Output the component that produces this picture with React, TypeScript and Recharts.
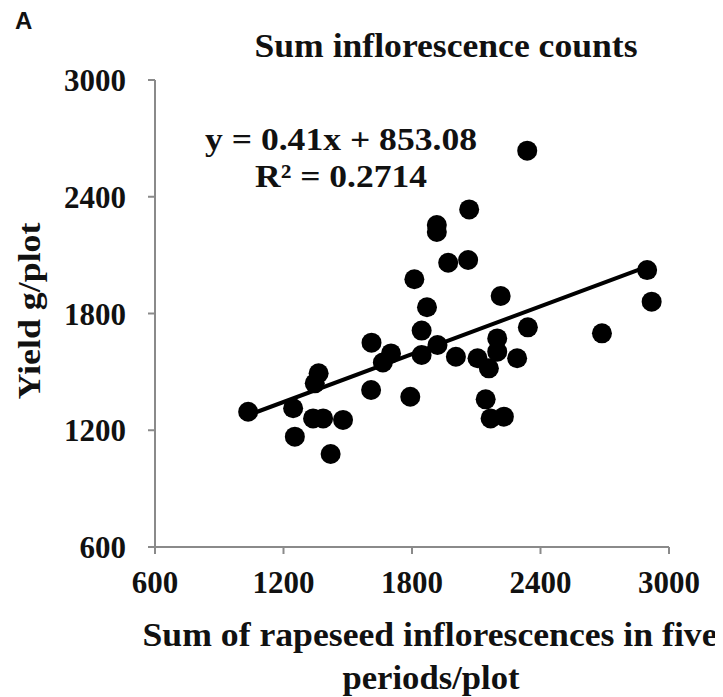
import React from "react";
import { ScatterChart, Scatter, XAxis, YAxis, ReferenceLine } from "recharts";

const inflorescences = [
  1035, 1245, 1253, 1338, 1385, 1478, 1420, 1364, 1346, 1609,
  1611, 1664, 1702, 1792, 1811, 1845, 1845, 1870, 1919, 1916,
  1916, 1969, 2062, 2067, 2005, 2106, 2198, 2198, 2159, 2144,
  2167, 2229, 2214, 2291, 2341, 2338, 2687, 2898, 2919,
];
const yields = [
  1295, 1313, 1167, 1261, 1261, 1253, 1078, 1493, 1441, 1407,
  1650, 1548, 1595, 1372, 1976, 1712, 1587, 1832, 1638, 2255,
  2219, 2061, 2075, 2335, 1578, 1570, 1672, 1604, 1518, 1359,
  1261, 1270, 1890, 1570, 1729, 2637, 1698, 2023, 1861,
];
const xTicks = [600, 1200, 1800, 2400, 3000];
const yTicks = [600, 1200, 1800, 2400, 3000];
const slope = 0.41;
const intercept = 853.08;
const trendXs = [1035, 2898];

const points = inflorescences.map((x, i) => ({ x, y: yields[i] }));
const trend = trendXs.map((x) => ({ x, y: slope * x + intercept }));

const W = 715;
const H = 689;
const serif = "'Liberation Serif', 'Times New Roman', serif";
const tickStyle = { fontFamily: serif, fontWeight: 700, fontSize: 31, fill: "#111" };

const Dot = (props: any) => <circle cx={props.cx} cy={props.cy} r={10} fill="#000" />;

const T = (p: any) => (
  <text
    fontFamily={serif}
    fontWeight={700}
    fill="#111"
    lengthAdjust="spacingAndGlyphs"
    {...p}
  />
);

export default function App() {
  return (
    <div style={{ position: "relative", width: W, height: H }}>
      <ScatterChart width={W} height={H} margin={{ top: 72, right: 54, bottom: 120, left: 87 }}>
        <XAxis
          type="number"
          dataKey="x"
          domain={[600, 3000]}
          ticks={xTicks}
          allowDataOverflow
          height={30}
          tickSize={7}
          tickMargin={17}
          axisLine={{ stroke: "#8a8a8a", strokeWidth: 2 }}
          tickLine={{ stroke: "#8a8a8a", strokeWidth: 2 }}
          tick={tickStyle}
        />
        <YAxis
          type="number"
          dataKey="y"
          domain={[600, 3000]}
          ticks={yTicks}
          allowDataOverflow
          width={60}
          tickSize={7}
          tickMargin={22}
          axisLine={{ stroke: "#8a8a8a", strokeWidth: 2 }}
          tickLine={{ stroke: "#8a8a8a", strokeWidth: 2 }}
          tick={tickStyle}
        />
        <ReferenceLine
          segment={[trend[0], trend[1]]}
          stroke="#000"
          strokeWidth={4}
          ifOverflow="visible"
        />
        <Scatter data={points} shape={Dot} isAnimationActive={false} />
      </ScatterChart>
      <svg
        width={W}
        height={H}
        style={{ position: "absolute", left: 0, top: 0, pointerEvents: "none" }}
      >
        <text x={7} y={21} fontFamily="'Liberation Sans', Arial, sans-serif" fontWeight={700} fontSize={24} fill="#111">
          A
        </text>
        <T x={438} y={49} textAnchor="middle" fontSize={33} textLength={383}>
          Sum inflorescence counts
        </T>
        <T x={197} y={142} fontSize={32} textLength={272}>
          y = 0.41x + 853.08
        </T>
        <T x={247} y={179} fontSize={32} textLength={172}>
          R² = 0.2714
        </T>
        <T x={422} y={638} textAnchor="middle" fontSize={33} textLength={575}>
          Sum of rapeseed inflorescences in five
        </T>
        <T x={423} y={681} textAnchor="middle" fontSize={33} textLength={177}>
          periods/plot
        </T>
        <T
          x={32}
          y={303}
          textAnchor="middle"
          transform="rotate(-90 32 303)"
          fontSize={31}
          textLength={177}
        >
          Yield g/plot
        </T>
      </svg>
    </div>
  );
}
